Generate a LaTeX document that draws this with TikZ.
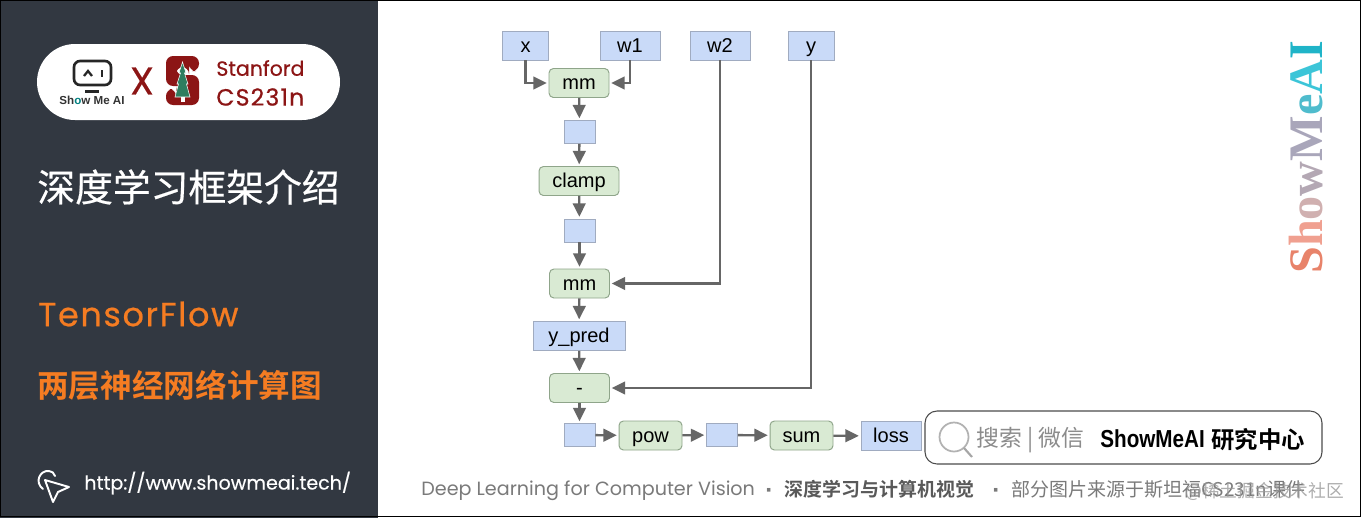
\documentclass[tikz,border=0pt]{standalone}
\usepackage{fontspec}
\usetikzlibrary{arrows.meta}
\setmainfont{Liberation Sans}
\newfontfamily\cjk[BoldFont=Noto Sans CJK SC Bold]{Noto Sans CJK SC}
\newfontfamily\cjkmid[FakeBold=0.5]{Noto Sans CJK SC}
\newfontfamily\wide[FakeBold=0.4]{Poppins}
\newfontfamily\widespaced[FakeBold=0.6,LetterSpace=5]{Poppins}
\newfontfamily\footfont{Poppins}
\newfontfamily\logoserif{Liberation Serif}
\definecolor{panel}{HTML}{323841}
\definecolor{accent}{HTML}{F57C22}
\definecolor{cardinal}{HTML}{8C1515}
\definecolor{treegreen}{HTML}{2F7D5F}
\definecolor{valuefill}{HTML}{C9DAF8}
\definecolor{valueline}{HTML}{A0ABC0}
\definecolor{opfill}{HTML}{D9EAD3}
\definecolor{opline}{HTML}{8FA58A}
\definecolor{flowgray}{HTML}{666666}
\tikzset{
    value/.style={draw=valueline, fill=valuefill, line width=0.55pt, minimum height=0.58cm, inner sep=0pt, text height=8.5pt, text depth=1pt, font=\fontsize{11.4}{12}\selectfont},
    blank/.style={value, minimum width=0.62cm, minimum height=0.46cm},
    op/.style={draw=opline, fill=opfill, line width=0.55pt, rounded corners=2.5pt, minimum height=0.58cm, inner sep=0pt, text height=8.5pt, text depth=1pt, font=\fontsize{11.4}{12}\selectfont},
    flow/.style={draw=flowgray, line width=1.3pt, -{Triangle[length=7.6pt,width=7.2pt]}, shorten >=1pt},
    caption/.style={anchor=west, inner sep=0pt, text=black!52},
}
\begin{document}
\begin{tikzpicture}[x=0.02cm, y=-0.02cm]
    \useasboundingbox (0, 0) rectangle (1361, 518);
    \fill[white] (0, 0) rectangle (1361, 518);
    \fill[panel] (0, 0) rectangle (378, 518);
    \draw[black, line width=1pt] (0.5, 0.5) rectangle (1360.5, 516.5);

    \fill[white, rounded corners=0.76cm] (37, 44) rectangle (340, 120);
    \draw[black!85, line width=1.5pt, rounded corners=3.5pt] (74, 61) rectangle (111, 85);
    \draw[black!85, line width=1.3pt] (84, 76) -- (88, 71) -- (92, 76);
    \draw[black!85, line width=1.3pt] (102, 70) -- (102, 77);
    \draw[black!85, line width=1.5pt] (85, 91.5) -- (99, 91.5);
    \node[inner sep=0pt, font=\fontsize{6.6}{8}\bfseries\selectfont, text=black!80] (brand) at (92, 100.5) {Sh\textcolor{teal}{o}w Me AI};
    \node[inner sep=0pt, font=\fontsize{22}{24}\selectfont\wide, text=cardinal] (cross) at (142, 81) {X};

    \fill[cardinal, rounded corners=4pt] (166, 56) -- (199, 56) -- (199, 71) -- (189, 71) -- (189, 67) -- (176, 67) -- (176, 75) -- (199, 75) -- (199, 105) -- (166, 105) -- (166, 89) -- (176, 89) -- (176, 94) -- (189, 94) -- (189, 86) -- (166, 86) -- cycle;
    \fill[treegreen, draw=white, line width=0.3pt] (182.5, 62) -- (186, 73) -- (184.5, 73) -- (188, 84) -- (186.5, 84) -- (190, 97) -- (175, 97) -- (178.5, 84) -- (177, 84) -- (180.5, 73) -- (179, 73) -- cycle;
    \fill[white] (180.5, 97) rectangle (184.5, 102);

    \node[anchor=west, inner sep=0pt, font=\fontsize{11.7}{13}\selectfont\wide, text=cardinal] (stanford) at (216, 68) {Stanford};
    \node[anchor=west, inner sep=0pt, font=\fontsize{13.4}{14}\selectfont\widespaced, text=cardinal] (course) at (216, 97) {CS231n};

    \node[anchor=west, inner sep=0pt, font=\fontsize{21.5}{23}\selectfont\cjkmid, text=white] (title) at (37, 187) {深度学习框架介绍};
    \node[anchor=west, inner sep=0pt, font=\fontsize{19}{20}\selectfont\widespaced, text=accent] (framework) at (38, 314) {TensorFlow};
    \node[anchor=west, inner sep=0pt, font=\fontsize{18}{20}\bfseries\selectfont\cjk, text=accent] (subtitle) at (37, 385) {两层神经网络计算图};
    \node[anchor=west, inner sep=0pt, font=\fontsize{10.85}{12}\selectfont\wide, text=white] (site) at (84, 483) {http://www.showmeai.tech/};
    \draw[white, line width=1.1pt, line join=round] (45, 480) -- (69, 487) -- (58, 492) -- (53, 502) -- cycle;
    \draw[white, line width=1.1pt, line cap=round] (43, 489) .. controls (34, 482) and (40, 470) .. (49, 471) .. controls (52, 471) and (54, 473) .. (55, 476);

    \node[value, minimum width=0.92cm] (x) at (525.5, 45.5) {x};
    \node[value, minimum width=1.2cm] (w1) at (630, 45.5) {w1};
    \node[value, minimum width=1.2cm] (w2) at (720, 45.5) {w2};
    \node[value, minimum width=0.92cm] (y) at (811, 45.5) {y};
    \node[op, minimum width=1.2cm] (mm1) at (579, 83) {mm};
    \node[blank] (t1) at (579.5, 132) {};
    \node[op, minimum width=1.6cm] (clamp) at (579, 181) {clamp};
    \node[blank] (t2) at (579.5, 230.5) {};
    \node[op, minimum width=1.2cm] (mm2) at (579.5, 283.5) {mm};
    \node[value, minimum width=1.84cm] (ypred) at (579, 336) {y\_pred};
    \node[op, minimum width=1.2cm] (minus) at (579.5, 388) {-};
    \node[blank] (t3) at (579.5, 435) {};
    \node[op, minimum width=1.26cm] (pow) at (650.5, 435.5) {pow};
    \node[blank] (t4) at (722, 435) {};
    \node[op, minimum width=1.26cm] (sum) at (801.5, 435.5) {sum};
    \node[value, minimum width=1.2cm] (loss) at (891, 436) {loss};

    \draw[flow] (x.south) |- (mm1.west);
    \draw[flow] (w1.south) |- (mm1.east);
    \draw[flow] (mm1) -- (t1);
    \draw[flow] (t1) -- (clamp);
    \draw[flow] (clamp) -- (t2);
    \draw[flow] (t2) -- (mm2);
    \draw[flow] (w2.south) |- (mm2.east);
    \draw[flow] (mm2) -- (ypred);
    \draw[flow] (ypred) -- (minus);
    \draw[flow] (y.south) |- (minus.east);
    \draw[flow] (minus) -- (t3);
    \draw[flow] (t3) -- (pow);
    \draw[flow] (pow) -- (t4);
    \draw[flow] (t4) -- (sum);
    \draw[flow] (sum) -- (loss);

    \node[anchor=base west, rotate=90, inner sep=0pt, font=\fontsize{27.4}{28}\bfseries\selectfont\logoserif] (mark) at (1322, 274) {\textcolor[HTML]{E8836A}{S}\textcolor[HTML]{F0A090}{h}\textcolor[HTML]{D0B0B0}{o}\textcolor[HTML]{B4A8B4}{w}\textcolor[HTML]{A9A6BA}{M}\textcolor[HTML]{4FBCCD}{e}\textcolor[HTML]{3CC5D8}{A}\textcolor[HTML]{1FB4C8}{I}};

    \draw[black!70, fill=white, rounded corners=0.24cm, line width=0.6pt] (925, 411) rectangle (1322, 464);
    \draw[black!30, line width=1pt] (954, 437) circle[radius=14.5];
    \draw[black!35, line width=1.2pt] (964, 448) -- (972, 457);
    \node[anchor=west, inner sep=0pt, font=\fontsize{13}{14}\selectfont\cjk, text=black!45] (search) at (976, 440) {搜索 | 微信};
    \node[anchor=west, inner sep=0pt, font=\fontsize{14}{14}\bfseries\selectfont] (lab) at (1100, 439) {\scalebox{0.84}[1]{ShowMeAI}};
    \node[anchor=west, inner sep=0pt, font=\fontsize{13.3}{14}\bfseries\selectfont\cjk] (labcn) at (1211, 440) {研究中心};

    \node[caption, font=\fontsize{10.9}{12}\selectfont\footfont] (footen) at (421, 491) {Deep Learning for Computer Vision};
    \node[caption, font=\fontsize{14}{12}\bfseries\selectfont] (dota) at (765, 493) {·};
    \node[caption, font=\fontsize{10.8}{12}\bfseries\selectfont\cjk, text=black!65] (footcn) at (784, 489) {深度学习与计算机视觉};
    \node[caption, font=\fontsize{14}{12}\bfseries\selectfont] (dotb) at (992, 493) {·};
    \node[caption, font=\fontsize{10.8}{12}\selectfont\cjk] (footsrc) at (1011, 489) {部分图片来源于斯坦福CS231n课件};
    \node[caption, font=\fontsize{10.1}{12}\selectfont\cjk, text=black!40, opacity=0.8] (water) at (1185, 491) {@稀土掘金技术社区};
\end{tikzpicture}
\end{document}
